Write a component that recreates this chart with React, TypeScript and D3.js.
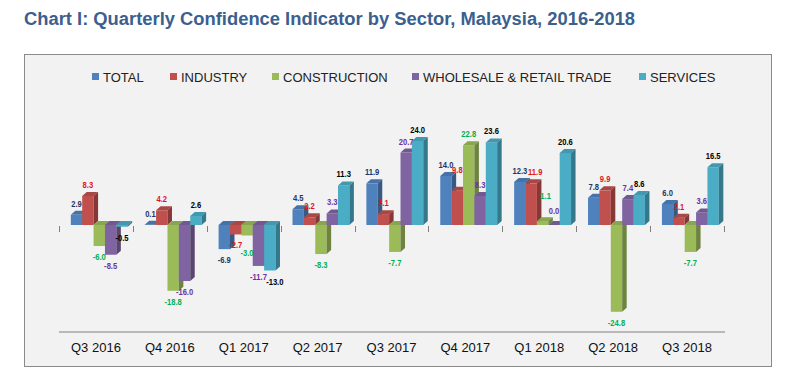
import { useEffect, useRef } from "react";
import * as d3 from "d3";

const categories = ["Q3 2016", "Q4 2016", "Q1 2017", "Q2 2017", "Q3 2017", "Q4 2017", "Q1 2018", "Q2 2018", "Q3 2018"];
const seriesNames = ["TOTAL", "INDUSTRY", "CONSTRUCTION", "WHOLESALE & RETAIL TRADE", "SERVICES"];
const total = [2.9, 0.1, -6.9, 4.5, 11.9, 14.0, 12.3, 7.8, 6.0];
const industry = [8.3, 4.2, -2.7, 2.2, 3.1, 9.8, 11.9, 9.9, 2.1];
const construction = [-6.0, -18.8, -3.0, -8.3, -7.7, 22.8, 1.1, -24.8, -7.7];
const wholesale = [-8.5, -16.0, -11.7, 3.3, 20.7, 8.3, 0.0, 7.4, 3.6];
const services = [-0.5, 2.6, -13.0, 11.3, 24.0, 23.6, 20.6, 8.6, 16.5];

const barColors = ["#4f81bd", "#c0504d", "#9bbb59", "#8064a2", "#4bacc6"];
const labelColors = ["#1f3864", "#e0141e", "#00b050", "#7030a0", "#000000"];

// hand-moved labels in the original ("category-series": [dx, dy])
const labelNudge: Record<string, [number, number]> = {
  "2-2": [0, 6],
  "2-4": [5, 0],
  "5-1": [0, -10],
  "6-1": [4, 0],
  "6-2": [3, -14],
  "6-3": [0, -3.5],
};

export default function App() {
  const ref = useRef<SVGSVGElement | null>(null);

  useEffect(() => {
    const svg = d3.select(ref.current);
    svg.selectAll("*").remove();

    const W = 792;
    const H = 387;
    const series = [total, industry, construction, wholesale, services];
    const font = "'Liberation Sans', Arial, sans-serif";

    svg.append("rect").attr("width", W).attr("height", H).attr("fill", "#fff");

    // title (slightly condensed like the original)
    svg
      .append("text")
      .attr("transform", "translate(24,25) scale(0.967,1)")
      .attr("font-family", font)
      .attr("font-weight", "bold")
      .attr("font-size", 19)
      .attr("fill", "#3b5f8e")
      .text("Chart I: Quarterly Confidence Indicator by Sector, Malaysia, 2016-2018");

    // frame
    svg
      .append("rect")
      .attr("x", 24.5)
      .attr("y", 54.5)
      .attr("width", 747)
      .attr("height", 312)
      .attr("fill", "#f2f2f2")
      .attr("stroke", "#8a8a8a")
      .attr("stroke-width", 1);

    // legend
    const legendX = [92, 170, 272, 412, 639];
    seriesNames.forEach((name, i) => {
      svg
        .append("rect")
        .attr("x", legendX[i])
        .attr("y", 73)
        .attr("width", 7)
        .attr("height", 7)
        .attr("fill", barColors[i]);
      svg
        .append("text")
        .attr("x", legendX[i] + 11)
        .attr("y", 81.5)
        .attr("font-family", font)
        .attr("font-size", 13)
        .attr("fill", "#222")
        .text(name);
    });

    const x0 = d3.scaleBand<string>().domain(categories).range([59, 724]).padding(0);
    const x1 = d3
      .scaleBand<number>()
      .domain(d3.range(seriesNames.length))
      .range([x0.bandwidth() * 0.16, x0.bandwidth() * 0.93])
      .padding(0);
    const y = d3.scaleLinear().domain([-30, 30]).range([330, 120]);
    const y0 = y(0);
    const dx = 4.5;
    const dy = 4;

    const g = svg.append("g");

    // tick marks at zero level between categories
    d3.range(categories.length + 1).forEach((i) => {
      const tx = Math.round(59 + x0.step() * i) + 0.5;
      g.append("line")
        .attr("x1", tx)
        .attr("x2", tx)
        .attr("y1", y0 + 1)
        .attr("y2", y0 + 7)
        .attr("stroke", "#7f7f7f");
    });

    // bottom axis line
    g.append("line")
      .attr("x1", 59)
      .attr("x2", 725)
      .attr("y1", y.range()[0] + 2)
      .attr("y2", y.range()[0] + 2)
      .attr("stroke", "#a6a6a6")
      .attr("stroke-width", 1.5);

    categories.forEach((c) => {
      g.append("text")
        .attr("x", (x0(c) ?? 0) + x0.bandwidth() / 2)
        .attr("y", 352)
        .attr("text-anchor", "middle")
        .attr("font-family", font)
        .attr("font-size", 13)
        .attr("fill", "#111")
        .text(c);
    });

    // 3D bars
    categories.forEach((c, ci) => {
      series.forEach((vals, si) => {
        const v = vals[ci];
        const bx = (x0(c) ?? 0) + (x1(si) ?? 0);
        const bw = x1.bandwidth();
        const yTop = Math.min(y(v), y0);
        const yBot = Math.max(y(v), y0);
        const col = d3.color(barColors[si])!;
        const bar = g.append("g");
        bar
          .append("rect")
          .attr("x", bx)
          .attr("y", yTop)
          .attr("width", bw)
          .attr("height", yBot - yTop)
          .attr("fill", barColors[si]);
        bar
          .append("path")
          .attr(
            "d",
            `M${bx},${yTop}L${bx + dx},${yTop - dy}L${bx + bw + dx},${yTop - dy}L${bx + bw},${yTop}Z`
          )
          .attr("fill", col.darker(0.35).toString());
        bar
          .append("path")
          .attr(
            "d",
            `M${bx + bw},${yTop}L${bx + bw + dx},${yTop - dy}L${bx + bw + dx},${yBot - dy}L${bx + bw},${yBot}Z`
          )
          .attr("fill", col.darker(1).toString());
      });
    });

    // value labels (narrow, like the original)
    categories.forEach((c, ci) => {
      series.forEach((vals, si) => {
        const v = vals[ci];
        const [nx, ny] = labelNudge[`${ci}-${si}`] ?? [0, 0];
        const cx = (x0(c) ?? 0) + (x1(si) ?? 0) + x1.bandwidth() / 2 + nx;
        const ly = (v >= 0 ? y(v) - 8 : y(v) + 14) + ny;
        g.append("text")
          .attr("transform", `translate(${cx},${ly}) scale(0.8,1)`)
          .attr("text-anchor", "middle")
          .attr("font-family", font)
          .attr("font-size", 9.5)
          .attr("font-weight", "bold")
          .attr("fill", labelColors[si])
          .text(v.toFixed(1));
      });
    });
  }, []);

  return (
    <svg
      ref={ref}
      width={792}
      height={387}
      style={{ position: "absolute", left: 0, top: 0, display: "block" }}
    />
  );
}
